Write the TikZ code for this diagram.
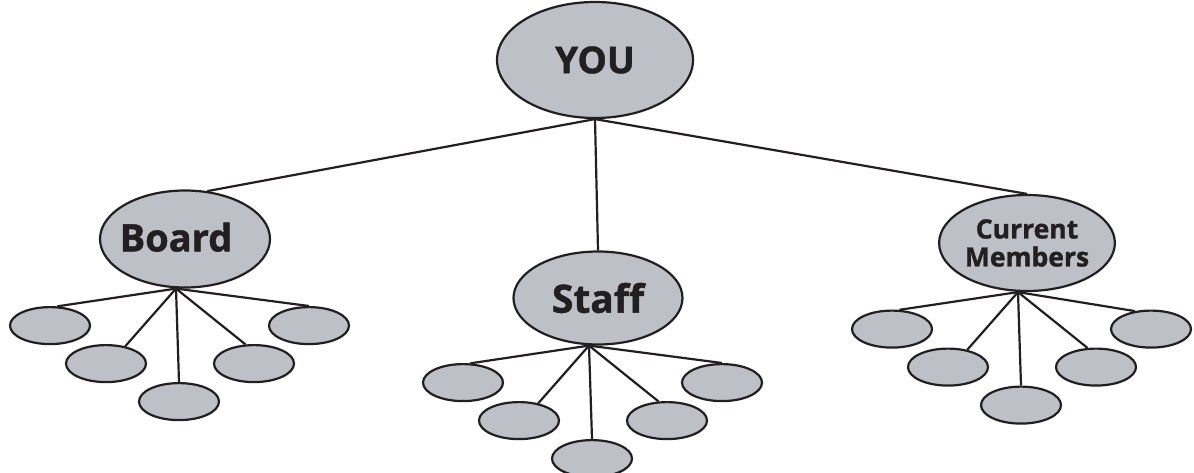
\documentclass[tikz,border=0pt]{standalone}
\usepackage{fontspec}
\setmainfont{Open Sans}[BoldFeatures={FakeBold=1.2}]
\usepackage{tikz}
\usetikzlibrary{shapes.geometric}
\definecolor{bubblegray}{RGB}{189,193,199}
\definecolor{inkblack}{RGB}{35,31,32}

\tikzset{
  bubble/.style={ellipse, draw=inkblack, fill=bubblegray, inner sep=0pt, text=inkblack},
  leaf/.style={bubble, minimum width=80pt, minimum height=37pt},
  link/.style={draw=inkblack}
}

\begin{document}
\begin{tikzpicture}[x=1pt, y=-1pt, line width=2.2pt]
    \useasboundingbox (0,0) rectangle (1194,473);
    % Top
    \node[bubble, minimum width=196pt, minimum height=116pt,
          font=\bfseries\fontsize{37}{40}\selectfont] (you) at (595,60) {YOU};
    % Groups
    \node[bubble, minimum width=170pt, minimum height=97pt,
          font=\bfseries\fontsize{38}{40}\selectfont] (board) at (185,239) {\hspace*{-18pt}\raisebox{4pt}{Board}};
    \node[bubble, minimum width=169pt, minimum height=93pt,
          font=\bfseries\fontsize{39}{40}\selectfont] (staff) at (598,298) {Staff};
    \node[bubble, minimum width=170pt, minimum height=96pt, align=center,
          font=\bfseries\fontsize{26.5}{28}\selectfont] (members) at (1027,243) {Current\\Members};
    % Hubs under each group
    \foreach \g in {board,staff,members}
      \coordinate (\g-hub) at ([xshift=-9pt]\g.south);
    % Links from the top
    \draw[link] (you.south) -- (board.65);
    \draw[link] (you.south) -- (staff.north);
    \draw[link] (you.south) -- (members.north);
    % Leaves
    \foreach \g/\a in {board/90, staff/90, members/132}{
      \foreach \dx/\dy/\ang [count=\i] in {-126/37/69, -70/75/42, 3/113/90, 78/75/114, 133/37/\a}{
        \node[leaf] (\g-\i) at ([shift={(\dx,\dy)}]\g-hub) {};
        \draw[link] (\g-hub) -- (\g-\i.\ang);
      }
    }
\end{tikzpicture}
\end{document}
